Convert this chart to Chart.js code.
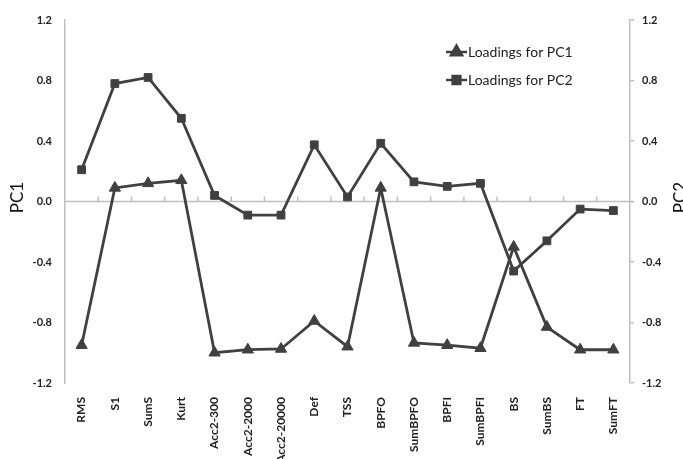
<!DOCTYPE html>
<html>
<head>
<meta charset="utf-8">
<script src="https://cdn.jsdelivr.net/npm/chart.js@4.4.1/dist/chart.umd.min.js"></script>
<style>
  html, body { margin: 0; padding: 0; background: #ffffff; }
  #wrap { width: 683px; height: 459px; }
</style>
</head>
<body>
<div id="wrap"><canvas id="c" width="683" height="459"></canvas></div>
<script>
// Variables on the horizontal axis
const categories = ['RMS', 'S1', 'SumS', 'Kurt', 'Acc2-300', 'Acc2-2000', 'Acc2-20000', 'Def', 'TSS',
  'BPFO', 'SumBPFO', 'BPFI', 'SumBPFI', 'BS', 'SumBS', 'FT', 'SumFT'];

// Loadings of each variable on the first two principal components
const pc1Loadings = [-0.95, 0.09, 0.12, 0.14, -1.00, -0.98, -0.975, -0.79, -0.96,
  0.09, -0.935, -0.95, -0.97, -0.30, -0.83, -0.98, -0.98];
const pc2Loadings = [0.21, 0.78, 0.82, 0.55, 0.04, -0.09, -0.09, 0.375, 0.03,
  0.385, 0.13, 0.10, 0.12, -0.46, -0.26, -0.05, -0.06];

// Shared value range of both vertical axes
const axisMin = -1.2;
const axisMax = 1.2;
const axisStep = 0.4;

const seriesNames = ['Loadings for PC1', 'Loadings for PC2'];

const ink = '#404040';
const axisGrey = '#bfbfbf';
const tickFont = { family: 'Lato', size: 11, weight: 'bold' };
const categoryFont = { family: 'Lato', size: 12, weight: 'bold' };

// Horizontal zero line with small upward ticks between categories
const zeroLinePlugin = {
  id: 'zeroLine',
  beforeDatasetsDraw(chart) {
    const { ctx, chartArea, scales } = chart;
    const y0 = scales.y.getPixelForValue(0);
    ctx.save();
    ctx.strokeStyle = axisGrey;
    ctx.lineWidth = 1.5;
    ctx.beginPath();
    ctx.moveTo(chartArea.left, y0);
    ctx.lineTo(chartArea.right + 3, y0);
    for (let i = 1; i < categories.length; i++) {
      const xb = (scales.x.getPixelForValue(i - 1) + scales.x.getPixelForValue(i)) / 2;
      ctx.moveTo(xb, y0);
      ctx.lineTo(xb, y0 - 5);
    }
    ctx.stroke();
    ctx.restore();
  }
};

// Axis titles and the in-plot legend
const decorPlugin = {
  id: 'decor',
  afterDraw(chart) {
    const { ctx, chartArea } = chart;
    const midY = (chartArea.top + chartArea.bottom) / 2;
    ctx.save();
    ctx.fillStyle = '#111';
    ctx.font = '17px Lato';
    ctx.textAlign = 'center';
    ctx.textBaseline = 'middle';
    [['PC1', 18], ['PC2', chart.width - 2.5]].forEach(([t, x]) => {
      ctx.save();
      ctx.translate(x, midY - 4);
      ctx.rotate(-Math.PI / 2);
      ctx.fillText(t, 0, 0);
      ctx.restore();
    });

    // legend entries: short line with the series marker, then the name
    const lx = chartArea.right - 184;
    const rows = [chartArea.top + 32, chartArea.top + 60];
    chart.data.datasets.forEach((ds, i) => {
      const yy = rows[i];
      ctx.strokeStyle = ink;
      ctx.fillStyle = ink;
      ctx.lineWidth = 2.5;
      ctx.beginPath();
      ctx.moveTo(lx, yy);
      ctx.lineTo(lx + 21, yy);
      ctx.stroke();
      Chart.helpers.drawPoint(ctx, {
        pointStyle: ds.pointStyle, radius: ds.pointRadius, borderWidth: 1, rotation: 0
      }, lx + 10.5, yy);
      ctx.fill();
      ctx.fillStyle = '#222';
      ctx.font = '14px Lato';
      ctx.textAlign = 'left';
      ctx.fillText(ds.label, lx + 22, yy);
    });
    ctx.restore();
  }
};

new Chart(document.getElementById('c'), {
  type: 'line',
  data: {
    labels: categories,
    datasets: [
      {
        label: seriesNames[0],
        data: pc1Loadings,
        yAxisID: 'y',
        borderColor: ink,
        backgroundColor: ink,
        borderWidth: 2.8,
        pointStyle: 'triangle',
        pointRadius: 6.5,
        pointBorderWidth: 1,
        tension: 0
      },
      {
        label: seriesNames[1],
        data: pc2Loadings,
        yAxisID: 'y2',
        borderColor: ink,
        backgroundColor: ink,
        borderWidth: 2.8,
        pointStyle: 'rect',
        pointRadius: 5.5,
        pointBorderWidth: 1,
        tension: 0
      }
    ]
  },
  options: {
    responsive: false,
    animation: false,
    layout: { padding: { top: 20, left: 0, right: 0, bottom: 0 } },
    plugins: {
      legend: { display: false },
      tooltip: { enabled: false }
    },
    scales: {
      x: {
        type: 'category',
        offset: true,
        grid: { display: false },
        border: { display: false },
        ticks: {
          font: categoryFont,
          color: '#222',
          minRotation: 90,
          maxRotation: 90,
          autoSkip: false,
          padding: 6
        },
        afterFit(scale) { scale.height = 76; }
      },
      y: {
        position: 'left',
        min: axisMin,
        max: axisMax,
        grid: { display: false, drawTicks: false },
        border: { display: true, color: axisGrey, width: 1.5 },
        ticks: {
          stepSize: axisStep,
          font: tickFont,
          color: '#222',
          padding: 13,
          callback: v => Number(v).toFixed(1)
        },
        afterFit(scale) { scale.width = 65; }
      },
      y2: {
        position: 'right',
        min: axisMin,
        max: axisMax,
        grid: { drawOnChartArea: false, drawTicks: true, tickLength: 4, color: axisGrey, lineWidth: 1.5 },
        border: { display: true, color: axisGrey, width: 1.5 },
        ticks: {
          stepSize: axisStep,
          font: tickFont,
          color: '#222',
          padding: 8,
          callback: v => Number(v).toFixed(1)
        },
        afterFit(scale) { scale.width = 53; }
      }
    }
  },
  plugins: [zeroLinePlugin, decorPlugin]
});
</script>
</body>
</html>
